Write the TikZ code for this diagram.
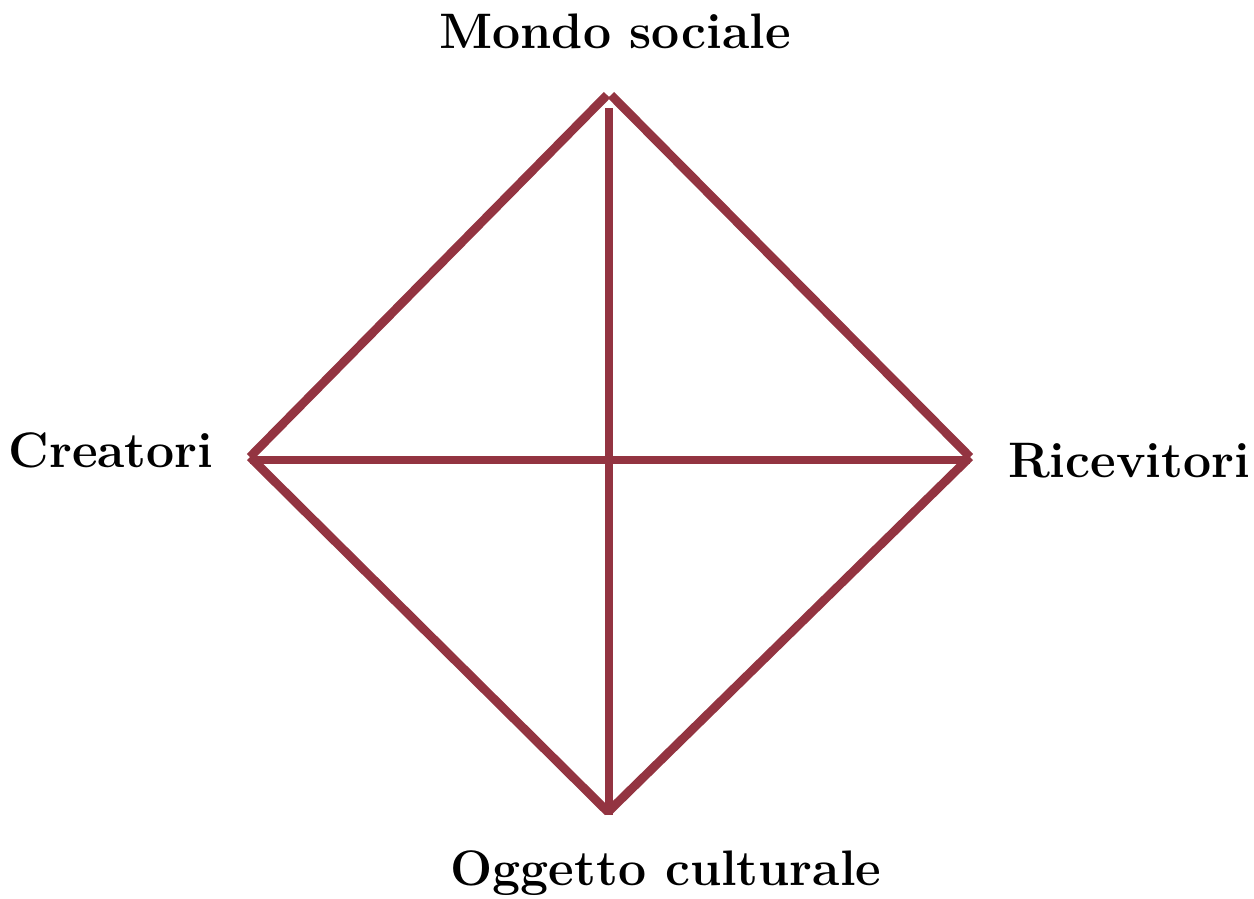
\documentclass[tikz,border=0pt]{standalone}
\usepackage{tikz}
\usepackage{xcolor}
\definecolor{wine}{HTML}{933441}

\begin{document}
\begin{tikzpicture}[x=0.02cm, y=-0.02cm,
    side/.style={draw=wine, line width=5pt},
    label/.style={font=\fontsize{28.4}{34}\selectfont\bfseries, inner sep=0pt}]
        \useasboundingbox (0, 0) rectangle (1254, 899);
        % corners of the square
        \coordinate (top) at (607, 95);
        \coordinate (topr) at (611, 95);
        \coordinate (left) at (250, 457);
        \coordinate (right) at (970, 457);
        \coordinate (bottom) at (608, 812);
        \coordinate (midtop) at (609, 108);
        \coordinate (midbottom) at (609, 815);
        \coordinate (midleft) at (250, 460);
        \coordinate (midright) at (970, 460);
        % draw sides
        \draw[side] (left) -- (top);
        \draw[side] (topr) -- (right);
        \draw[side] (right) -- (bottom);
        \draw[side] (bottom) -- (left);
        % draw cross
        \draw[side] (midtop) -- (midbottom);
        \draw[side] (midleft) -- (midright);
        % add text labels
        \node[label, anchor=base] (mondo) at (615, 48) {Mondo sociale};
        \node[label, anchor=base] (creatori) at (111, 467) {Creatori};
        \node[label, anchor=base] (ricevitori) at (1129, 477) {Ricevitori};
        \node[label, anchor=base] (oggetto) at (666, 885) {Oggetto culturale};
\end{tikzpicture}
\end{document}
